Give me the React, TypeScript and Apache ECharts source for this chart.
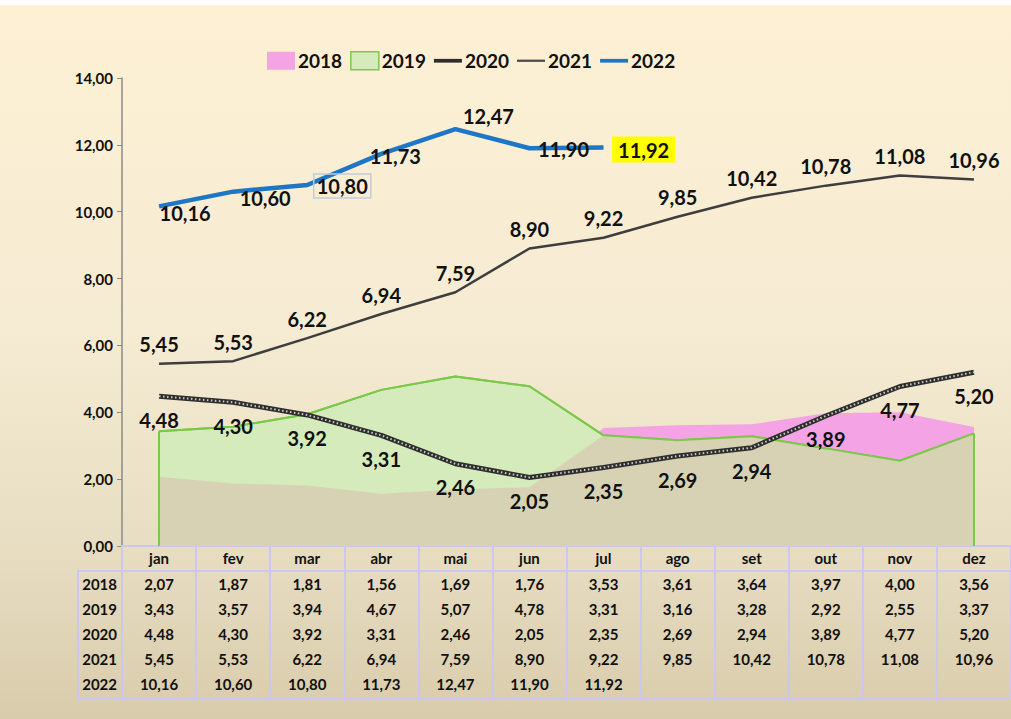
import React, { useEffect, useRef } from "react";
import * as echarts from "echarts";

const months = ["jan", "fev", "mar", "abr", "mai", "jun", "jul", "ago", "set", "out", "nov", "dez"];
const years = ["2018", "2019", "2020", "2021", "2022"];
const v2018 = [2.07, 1.87, 1.81, 1.56, 1.69, 1.76, 3.53, 3.61, 3.64, 3.97, 4.0, 3.56];
const v2019 = [3.43, 3.57, 3.94, 4.67, 5.07, 4.78, 3.31, 3.16, 3.28, 2.92, 2.55, 3.37];
const v2020 = [4.48, 4.3, 3.92, 3.31, 2.46, 2.05, 2.35, 2.69, 2.94, 3.89, 4.77, 5.2];
const v2021 = [5.45, 5.53, 6.22, 6.94, 7.59, 8.9, 9.22, 9.85, 10.42, 10.78, 11.08, 10.96];
const v2022 = [10.16, 10.6, 10.8, 11.73, 12.47, 11.9, 11.92];
const yMin = 0;
const yMax = 14;
const yStep = 2;

const fmt = (v: number) => v.toFixed(2).replace(".", ",");

const FONT = "Lato";
const LAV = "#cbc6f2";
const LINE_ICON = "path://M0,0 M0,7 L30,7 L30,11 L0,11 Z M30,18";
const THIN_ICON = "path://M0,0 M0,7.8 L30,7.8 L30,10.2 L0,10.2 Z M30,18";
const CLEAR = "rgba(0,0,0,0)";

export default function App() {
  const ref = useRef<HTMLDivElement>(null);
  useEffect(() => {
    if (!ref.current) return;
    const chart = echarts.init(ref.current, null, { renderer: "svg" });

    const allRows = [v2018, v2019, v2020, v2021, v2022];
    const overlap = v2018.map((v, i) => Math.min(v, v2019[i]));

    const lblBase = {
      fontFamily: FONT,
      fontWeight: 700,
      fontSize: 20,
      color: "#111",
    };

    const label2022: any[] = [
      { offset: [-4, 7] },
      { offset: [2, 6] },
      { offset: [2, 1], borderColor: "#c3cbd9", borderWidth: 1.5, padding: [2, 3] },
      { offset: [-16, 2] },
      { offset: [3, -13] },
      { offset: [4, 1] },
      { offset: [4, 2], backgroundColor: "#ffff00", padding: [3, 6] },
    ];

    const tableText = { fontFamily: FONT, fontWeight: 700, fontSize: 15, color: "#111" };

    const rowAxes = years.map((y, r) => ({
      type: "category",
      gridIndex: 0,
      position: "bottom",
      offset: 38 + r * 25,
      data: months.map((_, i) => (allRows[r][i] !== undefined ? fmt(allRows[r][i]) : "")),
      name: y,
      nameLocation: "start",
      nameGap: 5,
      nameTextStyle: { ...tableText, verticalAlign: "middle" },
      axisLine: { show: false },
      axisTick: { show: false },
      axisLabel: { interval: 0, margin: 0, verticalAlign: "middle", ...tableText },
    }));

    const lineAxis = (off: number) => ({
      type: "category",
      gridIndex: 0,
      position: "bottom",
      offset: off,
      data: months,
      axisLine: { show: true, lineStyle: { color: LAV, width: 2 } },
      axisTick: { show: false },
      axisLabel: { show: false },
    });

    chart.setOption({
      animation: false,
      backgroundColor: {
        type: "linear",
        x: 0, y: 0, x2: 0, y2: 1,
        colorStops: [
          { offset: 0, color: "#fdf0d4" },
          { offset: 0.45, color: "#f6ecd3" },
          { offset: 0.75, color: "#e8dec3" },
          { offset: 1, color: "#d9ccac" },
        ],
      },
      graphic: [
        { type: "rect", shape: { x: 0, y: 0, width: 1011, height: 5 }, style: { fill: "#ffffff" }, silent: true },
        { type: "rect", shape: { x: 78, y: 571, width: 44, height: 128 }, style: { fill: "none", stroke: LAV, lineWidth: 2 }, silent: true },
      ],
      legend: {
        left: 262,
        top: 46,
        itemWidth: 28,
        itemHeight: 18,
        itemGap: 8,
        textStyle: { fontFamily: FONT, fontWeight: 700, fontSize: 19, color: "#111", padding: [0, 0, 0, -2] },
        data: [
          { name: "2018", icon: "rect", itemStyle: { color: "#f4a3e4", opacity: 1 } },
          { name: "2019", icon: "rect", itemStyle: { color: "#d6ebbb", borderColor: "#7cc84a", borderWidth: 1.5, opacity: 1 } },
          { name: "2020", icon: LINE_ICON, itemStyle: { color: "#2e2e2e", opacity: 1 } },
          { name: "2021", icon: THIN_ICON, itemStyle: { color: "#4a4a4a", opacity: 1 } },
          { name: "2022", icon: LINE_ICON, itemStyle: { color: "#1d76c6", opacity: 1 } },
        ],
      },
      grid: { left: 122, top: 78, width: 896, bottom: 173 },
      xAxis: [
        {
          type: "category",
          data: months,
          boundaryGap: true,
          axisLine: { show: true, lineStyle: { color: LAV, width: 2 } },
          axisTick: { show: true, length: 153, inside: false, lineStyle: { color: LAV, width: 2 } },
          axisLabel: { interval: 0, margin: 12, verticalAlign: "middle", ...tableText },
        },
        lineAxis(25),
        lineAxis(153),
        ...rowAxes,
      ],
      yAxis: {
        type: "value",
        min: yMin,
        max: yMax,
        interval: yStep,
        axisLine: { show: true, lineStyle: { color: "#8a8a8a", width: 1.5 } },
        axisTick: { show: true, length: 5, lineStyle: { color: "#8a8a8a" } },
        splitLine: { show: false },
        axisLabel: { margin: 9, formatter: (v: number) => fmt(v), fontFamily: FONT, fontWeight: 700, fontSize: 15, color: "#111" },
      },
      series: [
        {
          name: "2018",
          type: "line",
          data: v2018,
          symbol: "none",
          z: 1,
          lineStyle: { width: 0, color: "#f4a3e4" },
          itemStyle: { color: "#f4a3e4" },
          areaStyle: { color: "#f4a3e4", opacity: 1 },
        },
        {
          name: "2019",
          type: "line",
          data: v2019,
          symbol: "none",
          z: 2,
          lineStyle: { width: 2, color: "#7cc84a" },
          itemStyle: { color: "#d6ebbb" },
          areaStyle: { color: "#d6ebbb", opacity: 1 },
        },
        {
          name: "overlap",
          type: "line",
          data: overlap,
          symbol: "none",
          z: 3,
          silent: true,
          lineStyle: { width: 0 },
          areaStyle: { color: "#d8d2b5", opacity: 1 },
        },
        {
          name: "2019 border",
          type: "line",
          data: v2019,
          symbol: "none",
          z: 4,
          silent: true,
          lineStyle: { width: 2, color: "#7cc84a" },
          markLine: {
            silent: true,
            symbol: "none",
            label: { show: false },
            lineStyle: { type: "solid", width: 2, color: "#7cc84a" },
            data: [
              [{ coord: [0, 0] }, { coord: [0, v2019[0]] }],
              [{ coord: [11, 0] }, { coord: [11, v2019[11]] }],
            ],
          },
        },
        {
          name: "2021",
          type: "line",
          data: v2021,
          symbol: "circle",
          symbolSize: 1,
          showSymbol: true,
          showAllSymbol: true,
          z: 5,
          lineStyle: { width: 2.5, color: "#3e3e3e" },
          itemStyle: { color: CLEAR, borderWidth: 0 },
          label: { show: true, position: "top", distance: 9, formatter: (p: any) => fmt(p.value), ...lblBase },
        },
        {
          name: "2020",
          type: "line",
          data: v2020,
          symbol: "circle",
          symbolSize: 1,
          showSymbol: true,
          showAllSymbol: true,
          z: 5,
          lineStyle: { width: 5, color: "#2e2e2e" },
          itemStyle: { color: CLEAR, borderWidth: 0 },
          label: { show: true, position: "bottom", distance: 13, formatter: (p: any) => fmt(p.value), ...lblBase },
        },
        {
          name: "2020 hatch",
          type: "line",
          data: v2020,
          symbol: "none",
          z: 6,
          silent: true,
          lineStyle: { width: 2, color: "#c9c9c2", type: [1.5, 2.5] },
        },
        {
          name: "2022",
          type: "line",
          data: v2022.map((v, i) => ({ value: v, label: label2022[i] })),
          symbol: "circle",
          symbolSize: 1,
          showSymbol: true,
          showAllSymbol: true,
          z: 7,
          lineStyle: { width: 4.5, color: "#1d76c6" },
          itemStyle: { color: CLEAR, borderWidth: 0 },
          label: { show: true, position: "right", distance: 4, formatter: (p: any) => fmt(p.value), ...lblBase },
        },
      ],
    });

    return () => chart.dispose();
  }, []);

  return <div ref={ref} style={{ position: "fixed", left: 0, top: 0, width: 1011, height: 719 }} />;
}
